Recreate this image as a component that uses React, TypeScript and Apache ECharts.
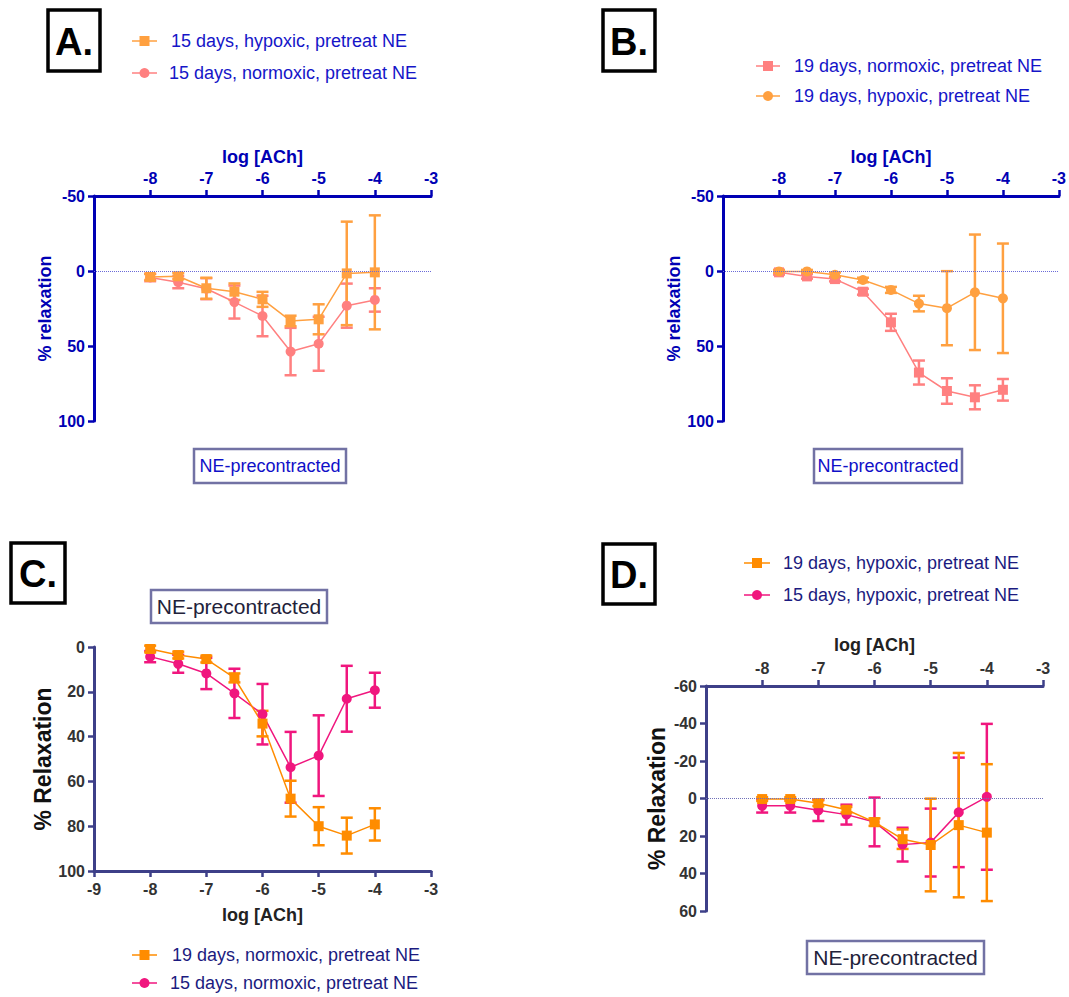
import React, { useEffect, useRef } from "react";
import * as echarts from "echarts";

const FONT = "'Liberation Sans', Arial, Helvetica, sans-serif";

// log [ACh] concentrations
const logACh = [-8, -7.5, -7, -6.5, -6, -5.5, -5, -4.5, -4];

// 15 days, hypoxic (panel A)
const a15Hyp = [4, 3.5, 11.5, 13.8, 18.9, 33.3, 32.2, 1.6, 0.9];
const a15HypErr = [2, 2, 7, 5.5, 5, 3.5, 10, 34.5, 38];
// 15 days, normoxic (panels A and C)
const n15Norm = [4.3, 7.5, 11.8, 20.7, 30, 53.7, 48.5, 23.1, 19.3];
const n15NormErr = [2.5, 4, 7, 11, 13.5, 15.8, 18, 14.7, 7.8];
// 19 days, normoxic (panels B and C)
const n19Norm = [0.9, 3.6, 5.4, 13.8, 34.2, 67.7, 80, 84.2, 79.2];
const n19NormErr = [1.5, 1.5, 1.5, 2, 5.7, 8, 8.5, 8, 7.2];
// 19 days, hypoxic (panels B and D)
const h19Hyp = [0.3, 0.3, 2.5, 6, 12.6, 21.7, 24.8, 14.2, 18.2];
const h19HypErr = [1, 1, 1.5, 1.5, 2, 5.2, 24.7, 38.5, 36.5];
// 15 days, hypoxic (panel D)
const d15Hyp = [3.9, 3.9, 6.3, 8.6, 12.5, 24.6, 23.5, 7.4, -0.9];
const d15HypErr = [3.6, 3.6, 5.7, 5.3, 13, 9, 18.1, 29.2, 38.9];

const xTicksMin = -9;
const xTicksMax = -3;

const AB = { axis: "#0000B4", label: "#0000B4", name: "#0000B4", yname: "#0000B4", legend: "#1515C8", ne: "#1010C8" };
const CD = { axis: "#3D3F88", label: "#333333", name: "#222222", yname: "#111111", legend: "#1B1B80", ne: "#22223A" };

const C_ORANGE_L = "#FFA040";
const C_PINK_L = "#FF8080";
const C_ORANGE = "#FF8C00";
const C_MAGENTA = "#F0167E";

function xAxisCfg(grid: number, pos: "top" | "bottom", th: any, showMin: boolean, nameGap: number) {
  return {
    gridIndex: grid,
    type: "value",
    min: xTicksMin,
    max: xTicksMax,
    interval: 1,
    position: pos,
    axisLine: { show: true, onZero: false, lineStyle: { color: th.axis, width: 3 } },
    axisTick: { show: true, length: 6, lineStyle: { color: th.axis, width: 2.5 } },
    axisLabel: {
      showMinLabel: showMin,
      margin: 10,
      fontSize: 16,
      fontWeight: "bold",
      color: th.label,
      fontFamily: FONT,
    },
    splitLine: { show: false },
    name: "log [ACh]",
    nameLocation: "middle",
    nameGap,
    nameTextStyle: { fontSize: 18, fontWeight: "bold", color: th.name, fontFamily: FONT },
  };
}

function yAxisCfg(grid: number, min: number, max: number, interval: number, th: any, name: string, nameSize: number, nameGap: number) {
  return {
    gridIndex: grid,
    type: "value",
    min,
    max,
    interval,
    inverse: true,
    axisLine: { show: true, onZero: false, lineStyle: { color: th.axis, width: 3 } },
    axisTick: { show: true, length: 6, lineStyle: { color: th.axis, width: 2.5 } },
    axisLabel: { margin: 9, fontSize: 16, fontWeight: "bold", color: th.label, fontFamily: FONT },
    splitLine: { show: false },
    name,
    nameLocation: "middle",
    nameGap,
    nameTextStyle: { fontSize: nameSize, fontWeight: "bold", color: th.yname, fontFamily: FONT },
  };
}

function errSeries(idx: number, means: number[], errs: number[], color: string) {
  return {
    type: "custom",
    xAxisIndex: idx,
    yAxisIndex: idx,
    silent: true,
    data: logACh.map((x, i) => [x, means[i] - errs[i], means[i] + errs[i]]),
    encode: { x: 0, y: [1, 2] },
    renderItem: (params: any, api: any) => {
      const x = api.value(0);
      const p1 = api.coord([x, api.value(1)]);
      const p2 = api.coord([x, api.value(2)]);
      const w = 6;
      const st = { stroke: color, lineWidth: 2.5 };
      return {
        type: "group",
        children: [
          { type: "line", shape: { x1: p1[0], y1: p1[1], x2: p2[0], y2: p2[1] }, style: st },
          { type: "line", shape: { x1: p1[0] - w, y1: p1[1], x2: p1[0] + w, y2: p1[1] }, style: st },
          { type: "line", shape: { x1: p2[0] - w, y1: p2[1], x2: p2[0] + w, y2: p2[1] }, style: st },
        ],
      };
    },
  };
}

function lineSeries(idx: number, name: string, means: number[], color: string, symbol: string, zeroLine: string | null) {
  const s: any = {
    type: "line",
    name,
    xAxisIndex: idx,
    yAxisIndex: idx,
    data: logACh.map((x, i) => [x, means[i]]),
    symbol,
    symbolSize: 10,
    showSymbol: true,
    lineStyle: { color, width: 1.5 },
    itemStyle: { color },
    silent: true,
  };
  if (zeroLine) {
    s.markLine = {
      silent: true,
      symbol: ["none", "none"],
      label: { show: false },
      lineStyle: { color: zeroLine, type: "dotted", width: 1 },
      data: [{ yAxis: 0 }],
    };
  }
  return s;
}

function legendRow(x1: number, x2: number, y: number, color: string, sym: string, text: string, tx: number, tcolor: string) {
  const cx = (x1 + x2) / 2;
  const marker =
    sym === "rect"
      ? { type: "rect", shape: { x: cx - 5, y: y - 5, width: 10, height: 10 }, style: { fill: color } }
      : { type: "circle", shape: { cx, cy: y, r: 5 }, style: { fill: color } };
  return [
    { type: "line", shape: { x1, y1: y, x2, y2: y }, style: { stroke: color, lineWidth: 1.5 } },
    marker,
    {
      type: "text",
      x: tx,
      y,
      style: {
        text,
        fill: tcolor,
        fontSize: 18,
        fontFamily: FONT,
        textAlign: "left",
        textVerticalAlign: "middle",
        align: "left",
        verticalAlign: "middle",
      },
    },
  ];
}

function letterBox(x: number, y: number, w: number, h: number, letter: string) {
  return [
    { type: "rect", shape: { x, y, width: w, height: h }, style: { fill: "#fff", stroke: "#000", lineWidth: 3.5 } },
    {
      type: "text",
      x: x + w / 2,
      y: y + h / 2 + 1,
      style: {
        text: letter,
        fill: "#000",
        fontSize: 38,
        fontWeight: "bold",
        fontFamily: FONT,
        textAlign: "center",
        textVerticalAlign: "middle",
        align: "center",
        verticalAlign: "middle",
      },
    },
  ];
}

function neBox(x: number, y: number, w: number, h: number, size: number, color: string) {
  return [
    { type: "rect", shape: { x, y, width: w, height: h }, style: { fill: "#fff", stroke: "#7272A4", lineWidth: 2.5 } },
    {
      type: "text",
      x: x + w / 2,
      y: y + h / 2,
      style: {
        text: "NE-precontracted",
        fill: color,
        fontSize: size,
        fontFamily: FONT,
        textAlign: "center",
        textVerticalAlign: "middle",
        align: "center",
        verticalAlign: "middle",
      },
    },
  ];
}

export default function App() {
  const ref = useRef<HTMLDivElement>(null);
  useEffect(() => {
    document.body.style.margin = "0";
    if (!ref.current) return;
    const chart = echarts.init(ref.current, null, { renderer: "svg" });
    const option: any = {
      animation: false,
      backgroundColor: "#ffffff",
      grid: [
        { left: 94, top: 196, width: 337, height: 225 },
        { left: 723, top: 196, width: 339, height: 225 },
        { left: 94, top: 647, width: 337, height: 224 },
        { left: 706, top: 686, width: 337, height: 225 },
      ],
      xAxis: [
        xAxisCfg(0, "top", AB, false, 30),
        xAxisCfg(1, "top", AB, false, 30),
        xAxisCfg(2, "bottom", CD, true, 35),
        xAxisCfg(3, "top", CD, false, 32),
      ],
      yAxis: [
        yAxisCfg(0, -50, 100, 50, AB, "% relaxation", 18, 39),
        yAxisCfg(1, -50, 100, 50, AB, "% relaxation", 18, 38),
        yAxisCfg(2, 0, 100, 20, CD, "% Relaxation", 23, 40),
        yAxisCfg(3, -60, 60, 20, CD, "% Relaxation", 23, 38),
      ],
      series: [
        // Panel A
        errSeries(0, n15Norm, n15NormErr, C_PINK_L),
        lineSeries(0, "15 days, normoxic, pretreat NE", n15Norm, C_PINK_L, "circle", "#6A6AD8"),
        errSeries(0, a15Hyp, a15HypErr, C_ORANGE_L),
        lineSeries(0, "15 days, hypoxic, pretreat NE", a15Hyp, C_ORANGE_L, "rect", null),
        // Panel B
        errSeries(1, n19Norm, n19NormErr, C_PINK_L),
        lineSeries(1, "19 days, normoxic, pretreat NE", n19Norm, C_PINK_L, "rect", "#6A6AD8"),
        errSeries(1, h19Hyp, h19HypErr, C_ORANGE_L),
        lineSeries(1, "19 days, hypoxic, pretreat NE", h19Hyp, C_ORANGE_L, "circle", null),
        // Panel C
        errSeries(2, n15Norm, n15NormErr, C_MAGENTA),
        lineSeries(2, "15 days, normoxic, pretreat NE ", n15Norm, C_MAGENTA, "circle", null),
        errSeries(2, n19Norm, n19NormErr, C_ORANGE),
        lineSeries(2, "19 days, normoxic, pretreat NE ", n19Norm, C_ORANGE, "rect", null),
        // Panel D
        errSeries(3, d15Hyp, d15HypErr, C_MAGENTA),
        lineSeries(3, "15 days, hypoxic, pretreat NE ", d15Hyp, C_MAGENTA, "circle", "#7070B8"),
        errSeries(3, h19Hyp, h19HypErr, C_ORANGE),
        lineSeries(3, "19 days, hypoxic, pretreat NE ", h19Hyp, C_ORANGE, "rect", null),
      ],
      graphic: [
        ...letterBox(48, 10, 52, 61, "A."),
        ...letterBox(603, 10, 52, 61, "B."),
        ...letterBox(11, 543, 54, 60, "C."),
        ...letterBox(603, 544, 52, 60, "D."),
        ...legendRow(132, 157, 41, C_ORANGE_L, "rect", "15 days, hypoxic, pretreat NE", 171, AB.legend),
        ...legendRow(132, 157, 73, C_PINK_L, "circle", "15 days, normoxic, pretreat NE", 169, AB.legend),
        ...legendRow(756, 780, 66, C_PINK_L, "rect", "19 days, normoxic, pretreat NE", 794, AB.legend),
        ...legendRow(756, 780, 96, C_ORANGE_L, "circle", "19 days, hypoxic, pretreat NE", 794, AB.legend),
        ...legendRow(132, 157, 955, C_ORANGE, "rect", "19 days, normoxic, pretreat NE", 172, CD.legend),
        ...legendRow(132, 157, 983, C_MAGENTA, "circle", "15 days, normoxic, pretreat NE", 170, CD.legend),
        ...legendRow(744, 770, 563, C_ORANGE, "rect", "19 days, hypoxic, pretreat NE", 783, CD.legend),
        ...legendRow(744, 770, 595, C_MAGENTA, "circle", "15 days, hypoxic, pretreat NE", 783, CD.legend),
        ...neBox(194, 449, 152, 34, 18, AB.ne),
        ...neBox(814, 449, 148, 34, 18, AB.ne),
        ...neBox(151, 590, 176, 33, 21, CD.ne),
        ...neBox(807, 941, 177, 33, 21, CD.ne),
      ],
    };
    chart.setOption(option);
    return () => chart.dispose();
  }, []);
  return <div ref={ref} style={{ width: 1069, height: 997 }} />;
}
